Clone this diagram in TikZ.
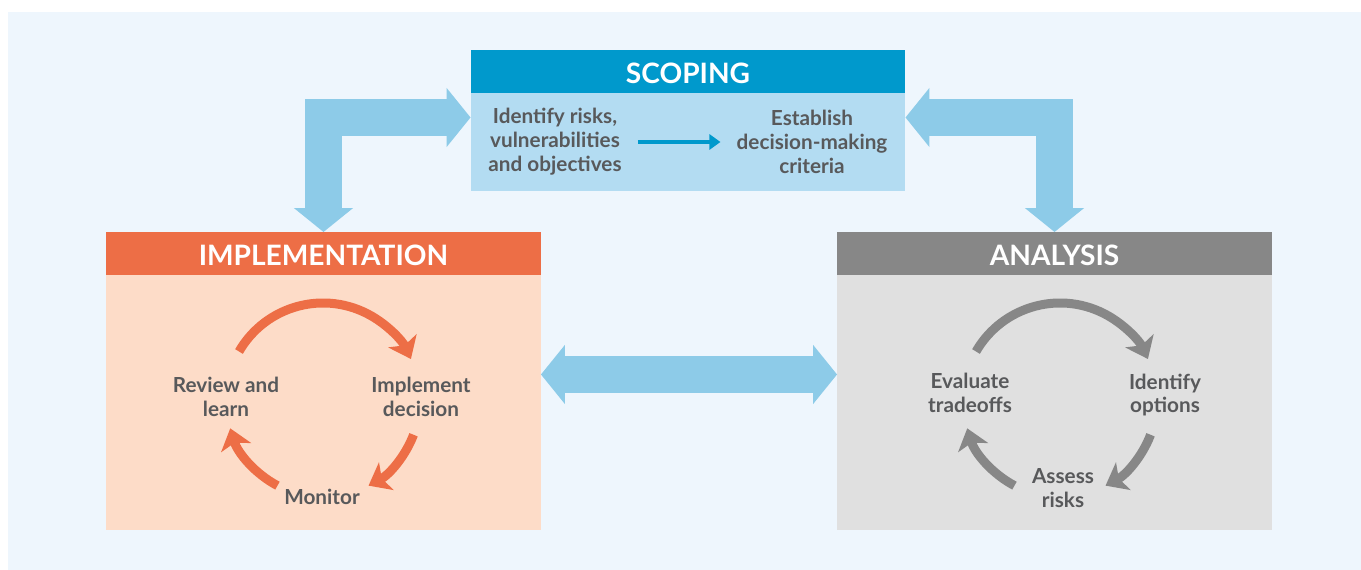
\documentclass[tikz,border=0pt]{standalone}
\usepackage{fontspec}
\setmainfont{Lato}
\usetikzlibrary{positioning,arrows.meta,calc}
\definecolor{bgblue}{HTML}{EEF6FD}
\definecolor{scopeblue}{HTML}{0099CC}
\definecolor{scopelight}{HTML}{B3DCF2}
\definecolor{fatblue}{HTML}{8DCBE8}
\definecolor{implorange}{HTML}{ED6E46}
\definecolor{impllight}{HTML}{FDDCC8}
\definecolor{anagray}{HTML}{878787}
\definecolor{analight}{HTML}{E0E0E0}
\definecolor{txtgray}{HTML}{58595B}
\begin{document}
\begin{tikzpicture}[x=0.02cm, y=0.02cm,
		head/.style={minimum width=8.7cm, minimum height=0.86cm, inner sep=0pt, outer sep=0pt, text=white, text height=0.48cm, text depth=0pt, font=\fontsize{16}{19}\selectfont\bfseries},
		box/.style={minimum width=8.7cm, inner sep=0pt, outer sep=0pt},
		txt/.style={align=center, text=txtgray, font=\fontsize{11.8}{13.6}\selectfont\bfseries},
		fat/.style={draw=fatblue, line width=0.74cm, <->, >={Triangle[length=0.48cm, width=1.16cm]}},
		cyc/.style={line width=0.18cm, -{Stealth[length=0.4cm, width=0.62cm, inset=0.1cm]}}]
	\fill[bgblue] (8,-12) rectangle (1361,-570);
	\useasboundingbox (0,0) rectangle (1361,-570);
	% the three boxes
	\node[head, fill=scopeblue] (scope) at (688,-71.5) {SCOPING};
	\node[box, fill=scopelight, minimum height=1.96cm, below=0pt of scope] (scopebody) {};
	\node[head, fill=implorange] (impl) at (323.5,-253.5) {IMPLEMENTATION};
	\node[box, fill=impllight, minimum height=5.1cm, below=0pt of impl] (implbody) {};
	\node[head, fill=anagray] (ana) at (1054.5,-253.5) {ANALYSIS};
	\node[box, fill=analight, minimum height=5.1cm, below=0pt of ana] (anabody) {};
	% scoping
	\node[txt] (risks) at (555,-142) {Identify risks,\\vulnerabilities\\and objectives};
	\node[txt] (crit) at (812,-142) {Establish\\decision-making\\criteria};
	\draw[scopeblue, line width=0.08cm, -{Triangle[length=0.22cm, width=0.3cm]}, shorten <=0.2cm, shorten >=0.2cm] (risks) -- (crit);
	% big arrows
	\draw[fat] (impl.north) |- ([yshift=-0.49cm]scopebody.north west);
	\draw[fat] (ana.north) |- ([yshift=-0.49cm]scopebody.north east);
	\draw[fat] ([yshift=0.56cm]implbody.east) -- ([yshift=0.56cm]anabody.west);
	% cycles
	\coordinate (ic) at (323,-400);
	\node[txt] (review) at (226,-397) {Review and\\learn};
	\node[txt] (implement) at (421,-397) {Implement\\decision};
	\node[txt] (monitor) at (322,-497) {Monitor};
	\coordinate (ac) at (1060,-400);
	\node[txt] (evaluate) at (970,-393) {Evaluate\\tradeoffs};
	\node[txt] (options) at (1165,-395) {Identify\\options};
	\node[txt] (assess) at (1063,-488) {Assess\\risks};
	\foreach \c/\col in {ic/implorange, ac/anagray} {
	   \foreach \a/\b in {150/25, -21/-62, -118/-163} {
	      \draw[cyc, \col] ($(\c)+(\a:97)$) arc[start angle=\a, end angle=\b, radius=97];
	      }}
\end{tikzpicture}
\end{document}
